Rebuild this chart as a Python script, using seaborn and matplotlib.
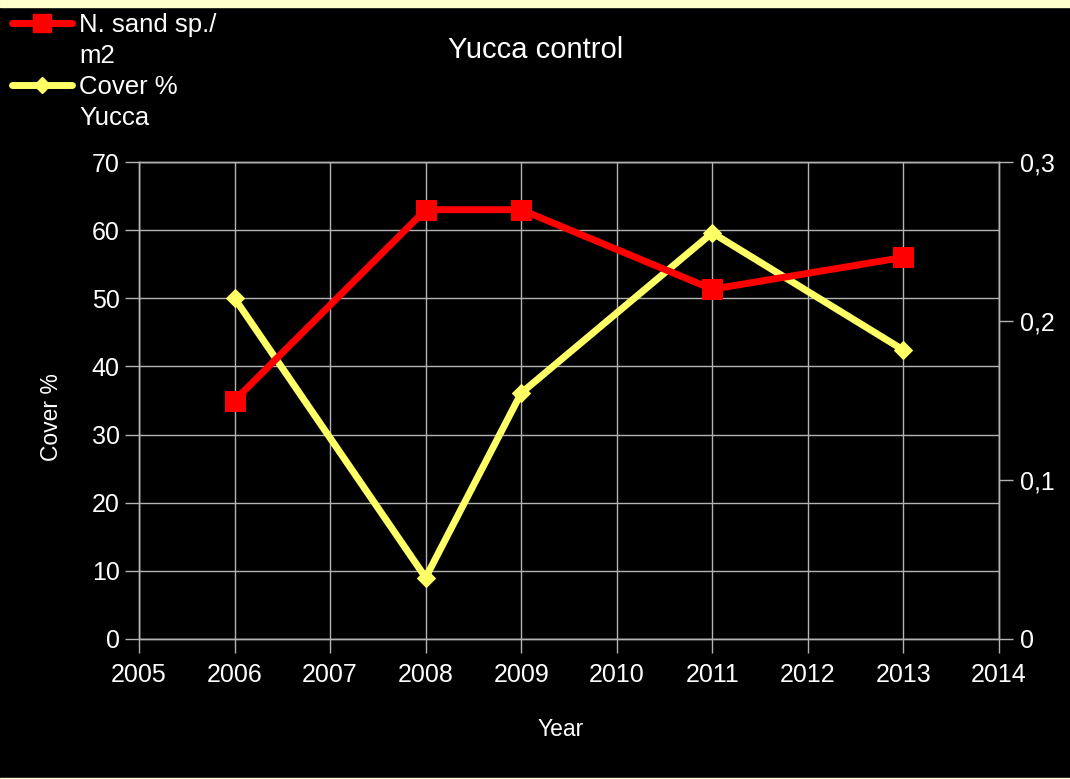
import seaborn as sns
import numpy as np
import matplotlib.pyplot as plt
from matplotlib.patches import Rectangle
from matplotlib.lines import Line2D
from matplotlib.ticker import FuncFormatter
import pandas as pd

years_cover = [2006, 2008, 2009, 2011, 2013]
cover_yucca = [50.0, 9.0, 36.1, 59.6, 42.4]
years_sand = [2006, 2008, 2009, 2011, 2013]
sand_per_m2 = [0.15, 0.27, 0.27, 0.22, 0.24]

x_ticks = list(range(2005, 2015))
left_ticks = [0, 10, 20, 30, 40, 50, 60, 70]
right_ticks = [0, 0.1, 0.2, 0.3]

cover = pd.DataFrame({"Year": years_cover, "Cover": cover_yucca})
sand = pd.DataFrame({"Year": years_sand, "Sand": sand_per_m2})

sns.set_style("dark")
plt.rcParams["font.family"] = ["Liberation Sans", "DejaVu Sans"]

fig = plt.figure(figsize=(10.7, 7.79), dpi=100, facecolor="black")
ax = fig.add_axes([139 / 1070, 1 - 639 / 779, 860 / 1070, 477 / 779])
ax.set_facecolor("black")
ax2 = ax.twinx()

grid_c = "#b3b3b3"
yellow = "#ffff66"
red = "#ff0000"

sns.lineplot(data=cover, x="Year", y="Cover", ax=ax, color=yellow, lw=5,
             marker="D", markersize=9, markeredgecolor=yellow, zorder=3)
sns.lineplot(data=sand, x="Year", y="Sand", ax=ax2, color=red, lw=5,
             marker="s", markersize=14, markeredgecolor=red, zorder=3)

ax.set_xlim(2005, 2014)
ax.set_ylim(0, 70)
ax2.set_ylim(0, 0.3)
ax.set_xticks(x_ticks)
ax.set_yticks(left_ticks)
ax2.set_yticks(right_ticks)
ax2.yaxis.set_major_formatter(FuncFormatter(lambda v, p: ("%g" % v).replace(".", ",")))

ax.grid(True, color=grid_c, lw=1)
ax2.grid(False)
for a in (ax, ax2):
    for s in a.spines.values():
        s.set_visible(True)
        s.set_color(grid_c)
        s.set_linewidth(1)
    a.tick_params(colors=grid_c, labelcolor="white", labelsize=18,
                  length=10, width=1, direction="out", pad=6)
ax.tick_params(axis="x", pad=7, bottom=True)
ax.tick_params(axis="y", left=True, pad=4)
ax2.tick_params(axis="y", right=True, pad=5)

ax.set_xlabel("Year", color="white", fontsize=16.5)
ax.set_ylabel("Cover %", color="white", fontsize=16.5)
ax2.set_ylabel("")
ax.xaxis.set_label_coords(0.49, -0.166)
ax.yaxis.set_label_coords(-0.088, 0.465)

fig.text(0.501, 1 - 58 / 779, "Yucca control", color="white", fontsize=21,
         ha="center", va="baseline")

blank = Line2D([], [], color="none", lw=0)
handles = [
    Line2D([], [], color=red, lw=5, marker="s", markersize=13, markeredgecolor=red),
    blank,
    Line2D([], [], color=yellow, lw=5, marker="D", markersize=8, markeredgecolor=yellow),
    blank,
]
labels = ["N. sand sp./", "m2", "Cover %", "Yucca"]
fig.legend(handles, labels, loc="upper left", bbox_to_anchor=(0.002, 1 - 3 / 779),
           frameon=False, fontsize=18.5, labelcolor="white", handlelength=2.3,
           handletextpad=0.3, borderaxespad=0.0, labelspacing=0.27)

fig.patches.append(Rectangle((0, 1 - 7 / 779), 1, 7 / 779, transform=fig.transFigure,
                             color="#ffffcc", zorder=0))
fig.patches.append(Rectangle((0, 0), 1, 1.5 / 779, transform=fig.transFigure,
                             color="#ffffcc", zorder=0))

fig.savefig("out.png", dpi=100, facecolor="black")
